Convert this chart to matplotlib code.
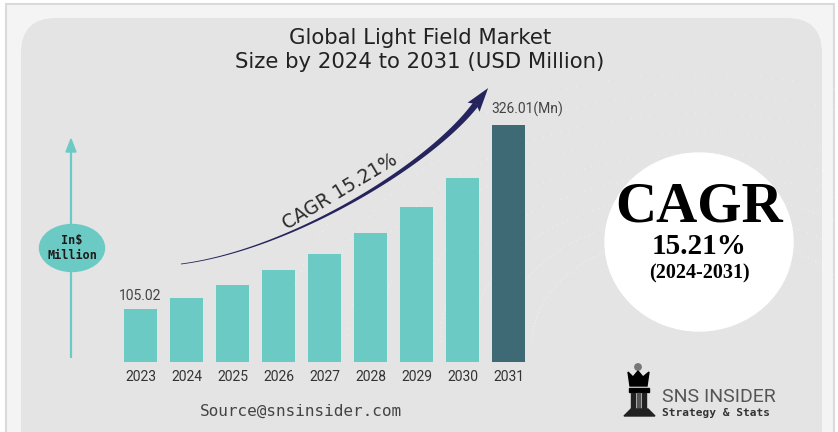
import numpy as np
import matplotlib.pyplot as plt
from matplotlib.patches import Rectangle, FancyBboxPatch, Ellipse, Polygon, Circle

# data
years = ["2023", "2024", "2025", "2026", "2027", "2028", "2029", "2030", "2031"]
values = [105.02, 118.0, 133.0, 151.0, 171.0, 196.0, 227.0, 262.0, 326.01]
first_label = "105.02"
last_label = "326.01(Mn)"
cagr_text = "CAGR 15.21%"

W, H = 838, 432
fig = plt.figure(figsize=(W / 100, H / 100), dpi=100)
fig.patch.set_facecolor("white")

# background layer in pixel coordinates
bg = fig.add_axes([0, 0, 1, 1], zorder=0)
bg.set_xlim(0, W)
bg.set_ylim(H, 0)
bg.axis("off")

bg.add_patch(Rectangle((6, 4), 828, 440, facecolor="#f4f4f4", edgecolor="#dadada", lw=1.5))
bg.add_patch(FancyBboxPatch((21 + 35, 18 + 35), 801 - 70, 440, boxstyle="round,pad=35",
                            facecolor="#e4e4e4", edgecolor="none"))

# faint dotted arcs for the texture
for k in range(9):
    t = np.linspace(0, np.pi, 120)
    r = 120 + 22 * k
    bg.scatter(700 + r * 1.4 * np.cos(t), 250 - r * 0.9 * np.sin(t) + 90,
               s=1.2, color="white", alpha=0.3, lw=0)

# title
bg.text(420, 38, "Global Light Field Market", ha="center", va="center",
        fontsize=15.3, color="#222222", family="DejaVu Sans")
bg.text(420, 62, "Size by 2024 to 2031 (USD Million)", ha="center", va="center",
        fontsize=15.3, color="#222222", family="DejaVu Sans")

# y axis arrow with label bubble
teal = "#6ccac4"
bg.plot([71, 71], [358, 150], color=teal, lw=1.6, solid_capstyle="butt")
bg.add_patch(Polygon([(71, 139), (66, 152), (76, 152)], closed=True, color=teal))
bg.add_patch(Ellipse((72, 248), 65, 47, color=teal))
bg.text(72, 248, "In\\$\nMillion", ha="center", va="center", fontsize=8.5,
        fontweight="bold", color="#1a1a1a", linespacing=1.25, family="DejaVu Sans Mono")

# curved tapered growth arrow
P = np.array([[181, 264], [290, 250], [430, 165], [476, 104]], dtype=float)
t = np.linspace(0, 1, 200)[:, None]
curve = ((1 - t) ** 3 * P[0] + 3 * (1 - t) ** 2 * t * P[1]
         + 3 * (1 - t) * t ** 2 * P[2] + t ** 3 * P[3])
d = np.gradient(curve, axis=0)
d /= np.linalg.norm(d, axis=1)[:, None]
nrm = np.column_stack([-d[:, 1], d[:, 0]])
wid = (0.4 + 2.8 * t[:, 0] ** 1.5)[:, None]
shaft = np.vstack([curve + nrm * wid, (curve - nrm * wid)[::-1]])
navy = "#25245c"
bg.add_patch(Polygon(shaft, closed=True, color=navy, lw=0))
tipdir = d[-1]
tipn = nrm[-1]
base = curve[-1] - tipdir * 4
tip = curve[-1] + tipdir * 20
bg.add_patch(Polygon([tip, base + tipn * 7.5, curve[-1], base - tipn * 7.5], closed=True,
                     color=navy, lw=0))
bg.text(340, 192, cagr_text, ha="center", va="center", rotation=31, fontsize=13.5,
        color="#2b2b2b", family="DejaVu Sans")

# CAGR circle
bg.add_patch(Ellipse((699, 242), 188, 178, color="white"))
bg.text(699, 207, "CAGR", ha="center", va="center", fontsize=41, fontweight="bold",
        family="Liberation Serif", color="black")
bg.text(699, 246, "15.21%", ha="center", va="center", fontsize=21, fontweight="bold",
        family="Liberation Serif", color="black")
bg.text(699, 273, "(2024-2031)", ha="center", va="center", fontsize=14.5, fontweight="bold",
        family="Liberation Serif", color="black")

# source
bg.text(301, 411, "Source@snsinsider.com", ha="center", va="center", fontsize=11.5,
        family="DejaVu Sans Mono", color="#444444")

# SNS logo
dark = "#222222"
bg.add_patch(Circle((638, 367), 3.2, color="#777777"))
bg.add_patch(Polygon([(628, 372), (633, 377), (638, 371), (643, 377), (649, 372),
                      (647, 386), (630, 386)], closed=True, color="black"))
bg.add_patch(Rectangle((629, 388), 20, 4, color="black"))
bg.add_patch(Rectangle((631, 393), 4, 18, color=dark))
bg.add_patch(Rectangle((637, 393), 3, 18, color="#555555"))
bg.add_patch(Rectangle((642, 393), 4, 18, color=dark))
bg.add_patch(Polygon([(624, 416), (631, 409), (648, 409), (655, 416)], closed=True, color=dark))
bg.text(662, 397, "SNS INSIDER", ha="left", va="center", fontsize=14, family="Roboto",
        color="#555555")
bg.text(662, 413, "Strategy & Stats", ha="left", va="center", fontsize=8,
        family="DejaVu Sans Mono", fontweight="bold", color="#333333")

# bar chart axes: bars centred at px 140.5 + 46*i, baseline px 361.7
x0, step = 140.5, 46.0
left_px, right_px = 100, 550
bottom_px, top_px = 361.7, 80
ax = fig.add_axes([left_px / W, (H - bottom_px) / H, (right_px - left_px) / W,
                   (bottom_px - top_px) / H], zorder=1)
ax.patch.set_alpha(0)
per_px = (326.01 - 105.02) / (236.7 - 53.0)
y_lo = 105.02 - 53.0 * per_px
ax.set_xlim((left_px - x0) / step, (right_px - x0) / step)
ax.set_ylim(y_lo, y_lo + (bottom_px - top_px) * per_px)

xs = np.arange(len(years))
colors = [teal] * (len(years) - 1) + ["#3d6a75"]
ax.bar(xs, values, width=33 / 46, color=colors, edgecolor="none")
ax.set_xticks(xs)
ax.set_xticklabels(years, fontsize=10, family="Roboto", color="#333333")
ax.tick_params(axis="x", length=0, pad=6)
ax.set_yticks([])
for s in ax.spines.values():
    s.set_visible(False)

ax.annotate(first_label, (xs[0], values[0]), xytext=(0, 4), textcoords="offset points",
            ha="center", va="bottom", fontsize=10, family="Roboto", color="#444444")
ax.annotate(last_label, (xs[-1] - 0.38, values[-1]), xytext=(0, 6), textcoords="offset points",
            ha="left", va="bottom", fontsize=10, family="Roboto", color="#444444")

fig.savefig("out.png", dpi=100, facecolor=fig.get_facecolor())
